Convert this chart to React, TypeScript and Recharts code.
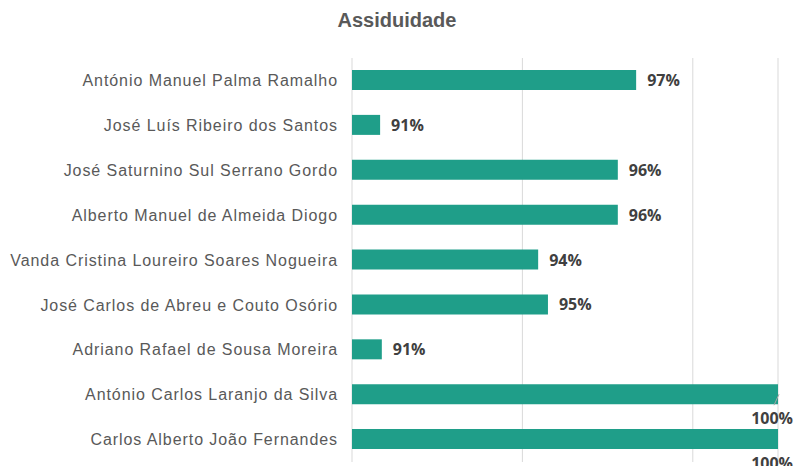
import { BarChart, Bar, XAxis, YAxis, CartesianGrid, LabelList } from "recharts";

const names = [
  "António Manuel Palma Ramalho",
  "José Luís Ribeiro dos Santos",
  "José Saturnino Sul Serrano Gordo",
  "Alberto Manuel de Almeida Diogo",
  "Vanda Cristina Loureiro Soares Nogueira",
  "José Carlos de Abreu e Couto Osório",
  "Adriano Rafael de Sousa Moreira ",
  "António Carlos Laranjo da Silva",
  "Carlos Alberto João Fernandes",
];
const attendance = [0.9667, 0.9066, 0.9624, 0.9624, 0.9437, 0.946, 0.907, 1, 1];
const gridTicks = [0.9, 0.94, 0.98];
// label of this row was dragged in the original and keeps a leader line
const leaderRows = [7];

const data = names.map((name, i) => ({ name, value: attendance[i] }));

const BAR = "#1f9e89";
const LABEL_FONT = "'Open Sans', sans-serif";

function ValueLabel(props: any) {
  const { x, y, width, height, value, index } = props;
  const txt = `${Math.round(value * 100)}%`;
  const full = value >= 1;
  const tx = full ? x + width + 15 : x + width + 11;
  const ty = full ? y + height + 14 : y + height / 2;
  return (
    <g>
      {leaderRows.includes(index) && (
        <line x1={x + width - 4} y1={y + height + 1} x2={x + width + 1} y2={y + height - 10} stroke="#a6a6a6" />
      )}
      <text
        x={tx}
        y={ty}
        textAnchor={full ? "end" : "start"}
        dominantBaseline="central"
        fontFamily={LABEL_FONT}
        fontWeight={700}
        fontSize={16}
        fill="#404040"
      >
        {txt}
      </text>
    </g>
  );
}

export default function App() {
  return (
    <div style={{ position: "relative", width: 794, height: 466, background: "#fff" }}>
      <style>{"body{margin:0}"}</style>
      <div
        style={{
          position: "absolute", top: 9, left: 0, width: 794, textAlign: "center",
          fontFamily: "'Liberation Sans', Arial, sans-serif", fontWeight: 700, fontSize: 20, color: "#595959",
        }}
      >
        Assiduidade
      </div>
      <BarChart
        width={794}
        height={466}
        data={data}
        layout="vertical"
        margin={{ top: 58, right: 16, bottom: 4, left: 0 }}
        barCategoryGap={12}
      >
        <CartesianGrid horizontal={false} stroke="#d9d9d9" />
        <XAxis type="number" domain={[0.9, 1]} ticks={gridTicks} allowDataOverflow hide />
        <YAxis
          type="category"
          dataKey="name"
          width={352}
          axisLine={false}
          tickLine={false}
          tickMargin={8}
          interval={0}
          tick={{ fontSize: 16, fill: "#595959", fontFamily: "'Liberation Sans', Arial, sans-serif", letterSpacing: 0.93 }}
        />
        <Bar dataKey="value" fill={BAR} barSize={20} isAnimationActive={false}>
          <LabelList dataKey="value" content={ValueLabel} />
        </Bar>
      </BarChart>
    </div>
  );
}
